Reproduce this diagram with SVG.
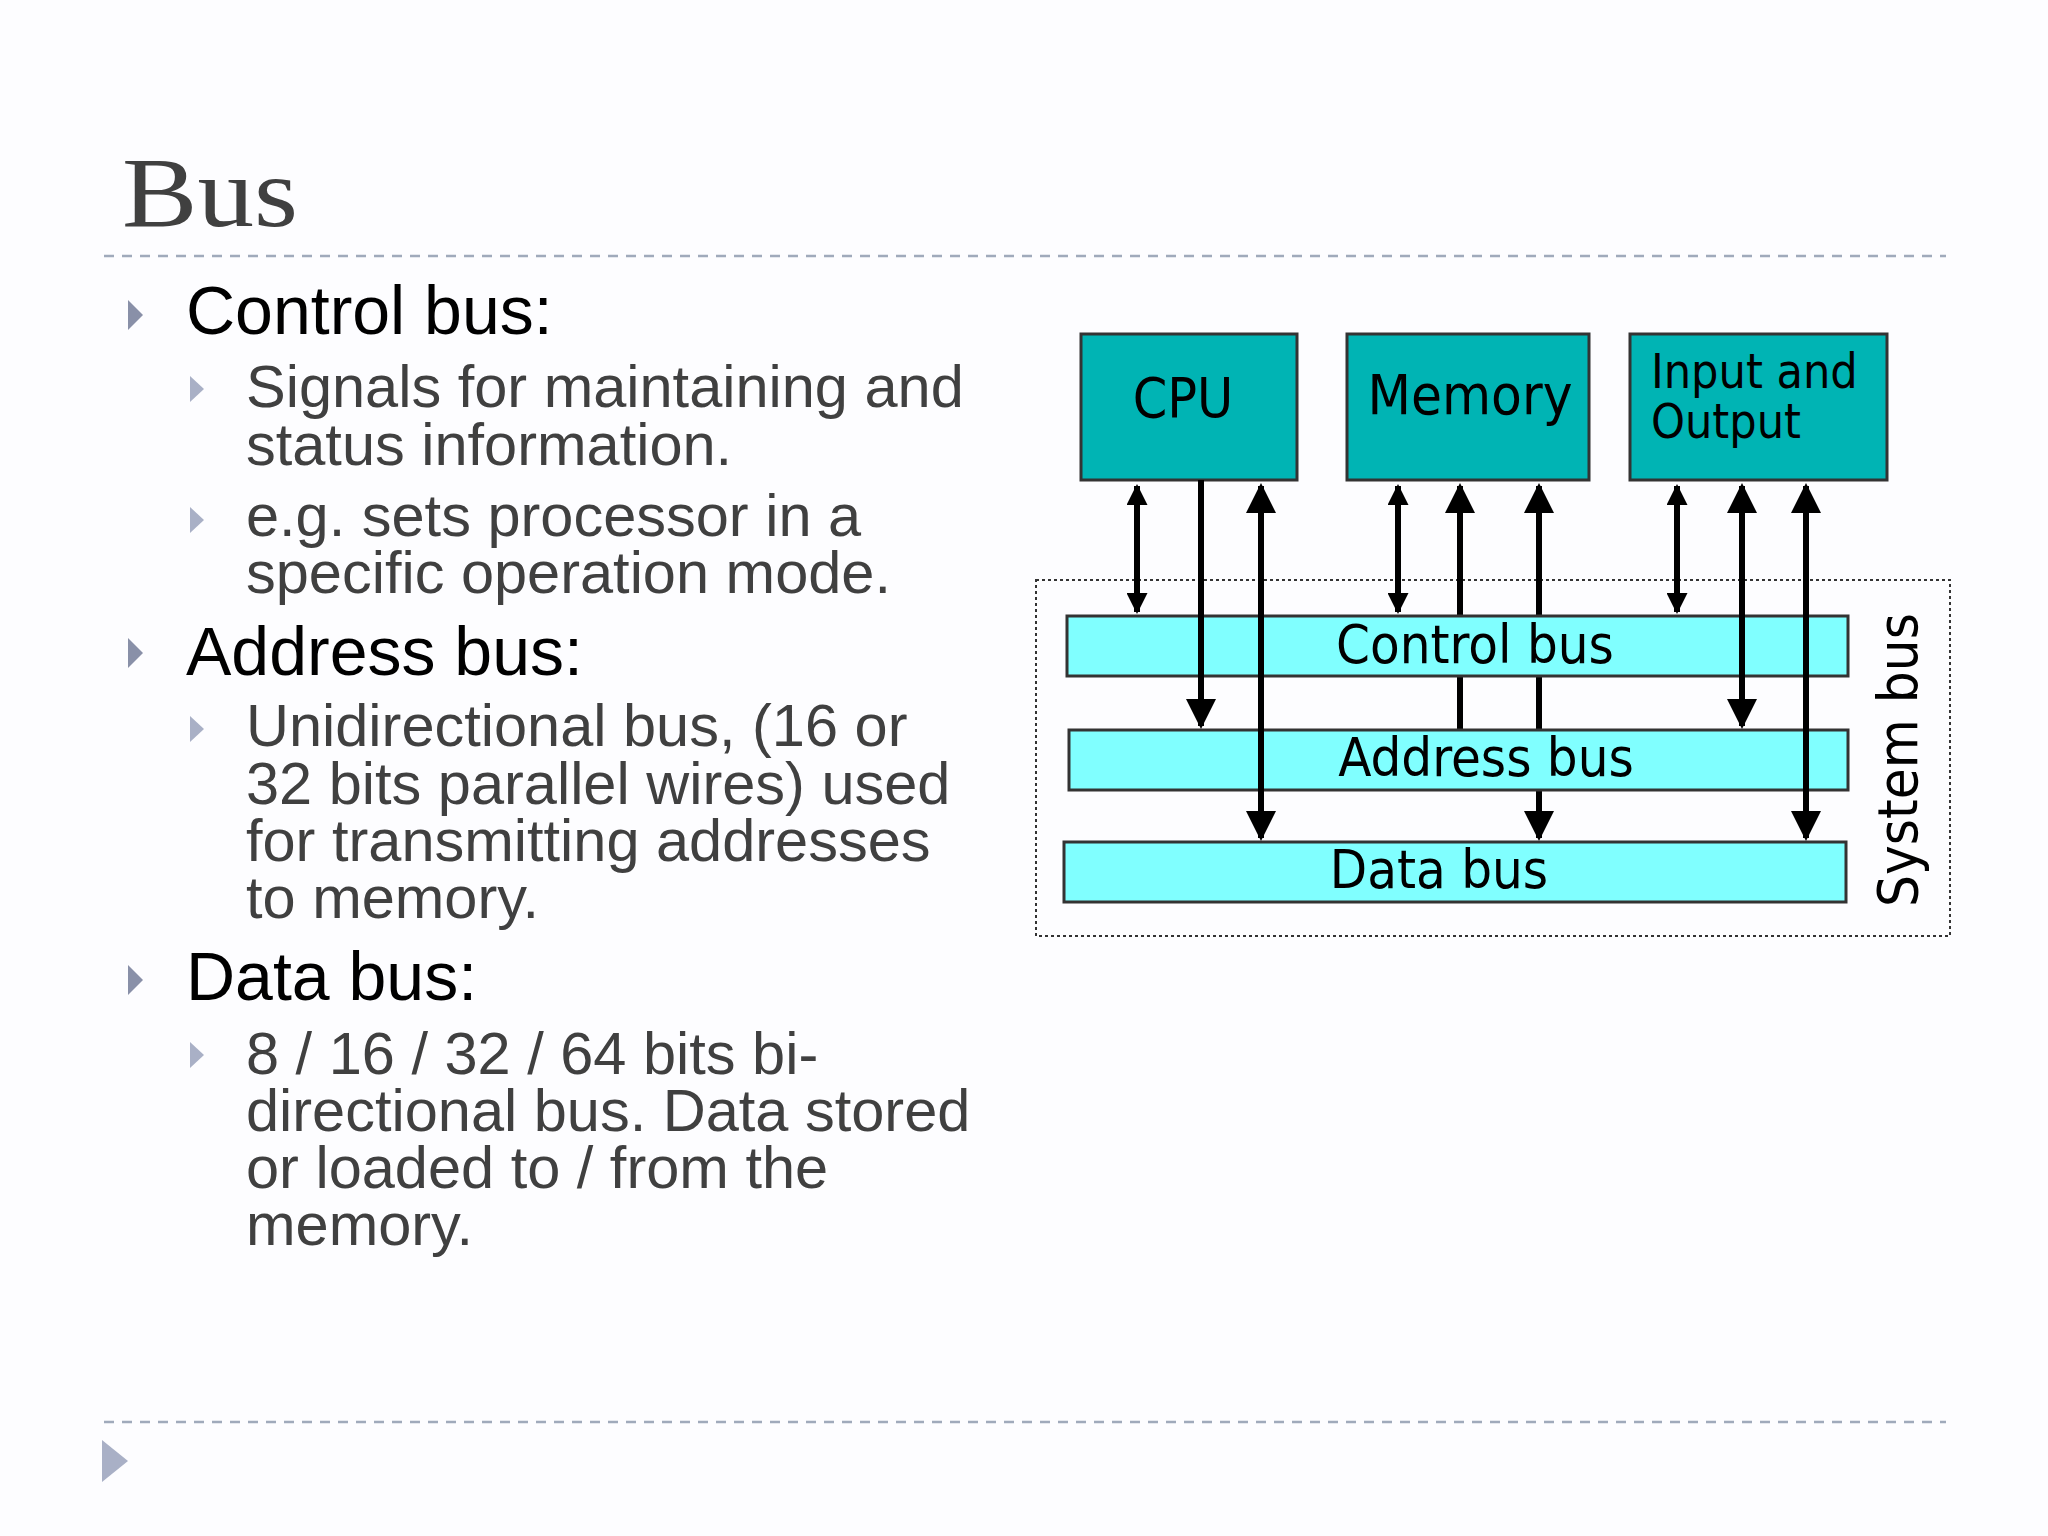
<svg xmlns="http://www.w3.org/2000/svg" width="2048" height="1536" viewBox="0 0 2048 1536">
<defs>
<style>
.t1{font-family:"Liberation Sans",Arial,sans-serif;font-size:68px;fill:#000}
.t2{font-family:"Liberation Sans",Arial,sans-serif;font-size:59.5px;fill:#404040}
.box{fill:#00b4b4;stroke:#333;stroke-width:3}
.bus{fill:#80ffff;stroke:#333;stroke-width:3}
.lbl{font-family:"DejaVu Sans Condensed","DejaVu Sans",sans-serif;fill:#000}
.ln{stroke:#000;stroke-width:6;fill:none}
.b1{fill:#8990a8}.b2{fill:#a9b0c6}
</style>
<marker id="ah" viewBox="0 0 10 10" refX="9" refY="5" markerWidth="5" markerHeight="8" markerUnits="strokeWidth" orient="auto-start-reverse"><path d="M0,0L10,5L0,10z" fill="#000"/></marker>
<marker id="as" viewBox="0 0 10 10" refX="9" refY="5" markerWidth="4.5" markerHeight="3.5" markerUnits="strokeWidth" orient="auto-start-reverse"><path d="M0,0L10,5L0,10z" fill="#000"/></marker>
</defs>
<rect width="2048" height="1536" fill="#fdfdff"/>
<text x="122" y="226" font-family="Liberation Serif,serif" font-size="100" fill="#404040" textLength="176" lengthAdjust="spacingAndGlyphs">Bus</text>
<line x1="104" y1="256" x2="1946" y2="256" stroke="#a0aabb" stroke-width="2.5" stroke-dasharray="10,8"/>
<line x1="104" y1="1422" x2="1946" y2="1422" stroke="#a0aabb" stroke-width="2.5" stroke-dasharray="10,8"/>
<polygon points="102,1440 128,1461 102,1482" class="b2"/>
<g id="bullets">
<polygon points="128,300 143,315 128,330" class="b1"/>
<polygon points="128,638 143,653 128,668" class="b1"/>
<polygon points="128,965 143,980 128,995" class="b1"/>
<polygon points="190,376 204,389 190,402" class="b2"/>
<polygon points="190,507 204,520 190,533" class="b2"/>
<polygon points="190,716 204,729 190,742" class="b2"/>
<polygon points="190,1042 204,1055 190,1068" class="b2"/>
</g>
<g id="text">
<text class="t1" x="186" y="334">Control bus:</text>
<text class="t2" x="246" y="407">Signals for maintaining and</text>
<text class="t2" x="246" y="465">status information.</text>
<text class="t2" x="246" y="536">e.g. sets processor in a</text>
<text class="t2" x="246" y="593">specific operation mode.</text>
<text class="t1" x="186" y="675">Address bus:</text>
<text class="t2" x="246" y="746">Unidirectional bus, (16 or</text>
<text class="t2" x="246" y="804">32 bits parallel wires) used</text>
<text class="t2" x="246" y="861">for transmitting addresses</text>
<text class="t2" x="246" y="918">to memory.</text>
<text class="t1" x="186" y="1000">Data bus:</text>
<text class="t2" x="246" y="1074">8 / 16 / 32 / 64 bits bi-</text>
<text class="t2" x="246" y="1131">directional bus. Data stored</text>
<text class="t2" x="246" y="1188">or loaded to / from the</text>
<text class="t2" x="246" y="1245">memory.</text>
</g>
<rect x="1036" y="580" width="914" height="356" fill="none" stroke="#333" stroke-width="2" stroke-dasharray="3,3"/>
<g id="connectors-behind">
<line class="ln" x1="1460" y1="730" x2="1460" y2="486" marker-end="url(#ah)"/>
<line class="ln" x1="1539" y1="838" x2="1539" y2="486" marker-start="url(#ah)" marker-end="url(#ah)"/>
</g>
<g id="control-bus"><rect class="bus" x="1067" y="616" width="781" height="60"/><text class="lbl" x="1475" y="663" font-size="54" text-anchor="middle">Control bus</text></g>
<g id="address-bus"><rect class="bus" x="1069" y="730" width="779" height="60"/><text class="lbl" x="1486" y="776" font-size="54" text-anchor="middle">Address bus</text></g>
<g id="data-bus"><rect class="bus" x="1064" y="842" width="782" height="60"/><text class="lbl" x="1439" y="888" font-size="54" text-anchor="middle">Data bus</text></g>
<g id="cpu"><rect class="box" x="1081" y="334" width="216" height="146"/><text class="lbl" x="1183" y="417" font-size="55" text-anchor="middle">CPU</text></g>
<g id="memory"><rect class="box" x="1347" y="334" width="242" height="146"/><text class="lbl" x="1470" y="414" font-size="56" text-anchor="middle">Memory</text></g>
<g id="io"><rect class="box" x="1630" y="334" width="257" height="146"/><text class="lbl" x="1651" y="388" font-size="48">Input and</text><text class="lbl" x="1651" y="438" font-size="48">Output</text></g>
<text class="lbl" x="0" y="0" font-size="56" text-anchor="middle" transform="translate(1917,760) rotate(-90)">System bus</text>
<g id="connectors">
<line class="ln" x1="1137" y1="486" x2="1137" y2="612" marker-start="url(#as)" marker-end="url(#as)"/>
<line class="ln" x1="1201" y1="480" x2="1201" y2="726" marker-end="url(#ah)"/>
<line class="ln" x1="1261" y1="486" x2="1261" y2="838" marker-start="url(#ah)" marker-end="url(#ah)"/>
<line class="ln" x1="1398" y1="486" x2="1398" y2="612" marker-start="url(#as)" marker-end="url(#as)"/>
<line class="ln" x1="1677" y1="486" x2="1677" y2="612" marker-start="url(#as)" marker-end="url(#as)"/>
<line class="ln" x1="1742" y1="486" x2="1742" y2="726" marker-start="url(#ah)" marker-end="url(#ah)"/>
<line class="ln" x1="1806" y1="486" x2="1806" y2="838" marker-start="url(#ah)" marker-end="url(#ah)"/>
</g>
</svg>
